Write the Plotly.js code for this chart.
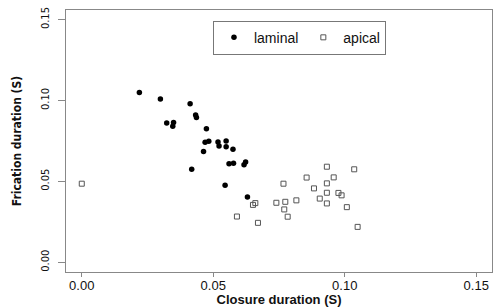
<!DOCTYPE html>
<html>
<head>
<meta charset="utf-8">
<script src="https://cdn.plot.ly/plotly-3.0.1.min.js"></script>
<style>html,body{margin:0;padding:0;background:#fff;}#chart{width:496px;height:307px;}</style>
</head>
<body>
<div id="chart"></div>
<script>
// Laminal: closure duration (S) vs frication duration (S)
const laminalClosure = [0.0219,0.0299,0.0412,0.0433,0.0436,0.0323,0.0349,0.0346,0.0474,0.0469,0.0483,0.0518,0.0549,0.0522,0.0549,0.0575,0.0463,0.0560,0.0577,0.0617,0.0623,0.0418,0.0545,0.0630];
const laminalFrication = [0.1050,0.1009,0.0980,0.0911,0.0895,0.0862,0.0864,0.0841,0.0825,0.0742,0.0748,0.0744,0.0750,0.0719,0.0714,0.0699,0.0685,0.0609,0.0613,0.0603,0.0620,0.0575,0.0477,0.0403];
// Apical
const apicalClosure = [0.0000,0.0590,0.0651,0.0660,0.0670,0.0740,0.0767,0.0770,0.0774,0.0783,0.0816,0.0855,0.0883,0.0905,0.0932,0.0932,0.0932,0.0932,0.0958,0.0976,0.0988,0.1008,0.1036,0.1049];
const apicalFrication = [0.0486,0.0283,0.0355,0.0366,0.0244,0.0368,0.0486,0.0327,0.0374,0.0282,0.0383,0.0524,0.0457,0.0394,0.0591,0.0488,0.0430,0.0364,0.0525,0.0429,0.0414,0.0341,0.0575,0.0219];
const tickVals = [0, 0.05, 0.10, 0.15];
const tickText = ["0.00", "0.05", "0.10", "0.15"];

const traces = [
  {x: laminalClosure, y: laminalFrication, name: "laminal", type: "scatter", mode: "markers",
   marker: {symbol: "circle", size: 5.5, color: "#000"}},
  {x: apicalClosure, y: apicalFrication, name: "apical", type: "scatter", mode: "markers",
   marker: {symbol: "square-open", size: 5, color: "#555", line: {width: 1}}}
];

const axisCommon = {
  showgrid: false, zeroline: false, showline: true, mirror: true,
  linecolor: "#888", linewidth: 1, ticks: "outside", tickcolor: "#888",
  tickvals: tickVals, ticktext: tickText, range: [-0.006, 0.156]
};

const narrow = "Liberation Sans Narrow, DejaVu Sans Condensed, Arial Narrow, sans-serif";

const layout = {
  width: 496, height: 307,
  margin: {l: 66, r: 4, t: 10, b: 35},
  paper_bgcolor: "#fff", plot_bgcolor: "#fff",
  font: {family: "Liberation Sans, Arial, sans-serif", color: "#111"},
  showlegend: true,
  legend: {orientation: "h", x: 0.345, y: 0.959, xanchor: "left", yanchor: "top",
    bordercolor: "#777", borderwidth: 1, bgcolor: "#fff",
    font: {size: 14, family: "Liberation Sans, Arial, sans-serif", color: "#111"}},
  xaxis: Object.assign({}, axisCommon, {
    ticklen: 4, tickfont: {size: 13}, ticklabelstandoff: -3,
    title: {text: "<b>Closure duration (S)</b>", font: {size: 13}, standoff: 4}
  }),
  yaxis: Object.assign({}, axisCommon, {
    ticklen: 7, tickangle: -90, ticklabelstandoff: 5,
    tickfont: {size: 11, family: narrow},
    title: {text: "<b>Frication duration (S)</b>", font: {size: 12, family: narrow}, standoff: 14}
  })
};

Plotly.newPlot("chart", traces, layout, {displayModeBar: false, staticPlot: true});
</script>
</body>
</html>
